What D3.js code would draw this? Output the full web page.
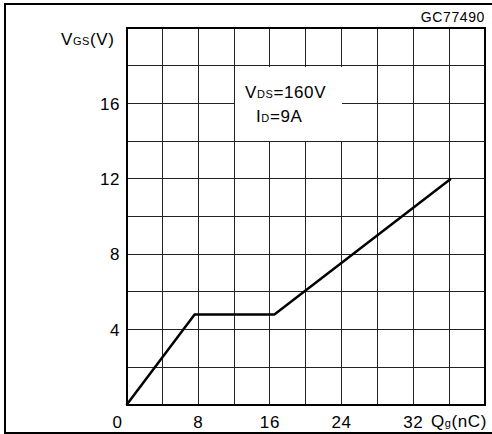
<!DOCTYPE html>
<html>
<head>
<meta charset="utf-8">
<script src="https://cdn.jsdelivr.net/npm/d3@7"></script>
<style>
  body { margin: 0; background: #fff; }
  svg { display: block; }
  text { font-family: "Liberation Sans", Arial, sans-serif; fill: #000; letter-spacing: 0.6px; }
</style>
</head>
<body>
<svg id="chart"></svg>
<script>
// gate charge curve
const qg = [0, 7.6, 16.5, 36.2];   // nC
const vgs = [0, 4.8, 4.8, 12];     // V
const xTicks = [0, 8, 16, 24, 32];
const yTicks = [4, 8, 12, 16];
const xGrid = d3.range(4, 40, 4);
const yGrid = d3.range(2, 20, 2);

const W = 492, H = 434;
const svg = d3.select("#chart").attr("width", W).attr("height", H);

const x = d3.scaleLinear().domain([0, 40]).range([126.5, 485]);
const y = d3.scaleLinear().domain([0, 20]).range([405, 28]);

// outer frame
svg.append("rect")
  .attr("x", 5).attr("y", 4).attr("width", 490).attr("height", 429)
  .attr("fill", "none").attr("stroke", "#000").attr("stroke-width", 2);

const g = svg.append("g").attr("shape-rendering", "crispEdges");

// grid
g.selectAll(".vx").data(xGrid).join("line")
  .attr("x1", d => x(d)).attr("x2", d => x(d))
  .attr("y1", y(0)).attr("y2", y(20))
  .attr("stroke", "#222").attr("stroke-width", 1);
g.selectAll(".hy").data(yGrid).join("line")
  .attr("x1", x(0)).attr("x2", x(40))
  .attr("y1", d => y(d)).attr("y2", d => y(d))
  .attr("stroke", "#222").attr("stroke-width", 1);

// annotation box masks the grid inside it
g.append("rect")
  .attr("x", x(12) + 1).attr("y", y(18) + 1)
  .attr("width", x(24) - x(12) - 1).attr("height", y(14) - y(18) - 1)
  .attr("fill", "#fff");

// plot border
g.append("rect")
  .attr("x", x(0)).attr("y", y(20))
  .attr("width", x(40) - x(0)).attr("height", y(0) - y(20))
  .attr("fill", "none").attr("stroke", "#000").attr("stroke-width", 2);

// curve
const line = d3.line().x((d, i) => x(qg[i])).y((d, i) => y(vgs[i]));
svg.append("path")
  .datum(qg)
  .attr("d", line)
  .attr("fill", "none")
  .attr("stroke", "#000")
  .attr("stroke-width", 2.5)
  .attr("stroke-linejoin", "miter");

// tick labels
svg.selectAll(".yl").data(yTicks).join("text")
  .attr("x", 120).attr("y", d => y(d))
  .attr("dy", "0.36em")
  .attr("text-anchor", "end")
  .attr("font-size", 17)
  .text(d => d);
svg.selectAll(".xl").data(xTicks).join("text")
  .attr("x", d => x(d) + (d === 0 ? -9 : 0))
  .attr("y", 428)
  .attr("text-anchor", "middle")
  .attr("font-size", 17)
  .text(d => d);

// axis titles
const yt = svg.append("text").attr("x", 61).attr("y", 45).attr("font-size", 17);
yt.append("tspan").text("V");
yt.append("tspan").attr("font-size", 11).text("GS");
yt.append("tspan").text("(V)");

const xt = svg.append("text").attr("x", 431).attr("y", 427).attr("font-size", 17);
xt.append("tspan").text("Q");
xt.append("tspan").attr("font-size", 11).text("g");
xt.append("tspan").text("(nC)");

// conditions
const c1 = svg.append("text").attr("x", 245).attr("y", 98).attr("font-size", 17);
c1.append("tspan").text("V");
c1.append("tspan").attr("font-size", 11).text("DS");
c1.append("tspan").text("=160V");
const c2 = svg.append("text").attr("x", 256).attr("y", 122).attr("font-size", 17);
c2.append("tspan").text("I");
c2.append("tspan").attr("font-size", 11).text("D");
c2.append("tspan").text("=9A");

svg.append("text")
  .attr("x", 485).attr("y", 22)
  .attr("text-anchor", "end")
  .attr("font-size", 14)
  .text("GC77490");
</script>
</body>
</html>
